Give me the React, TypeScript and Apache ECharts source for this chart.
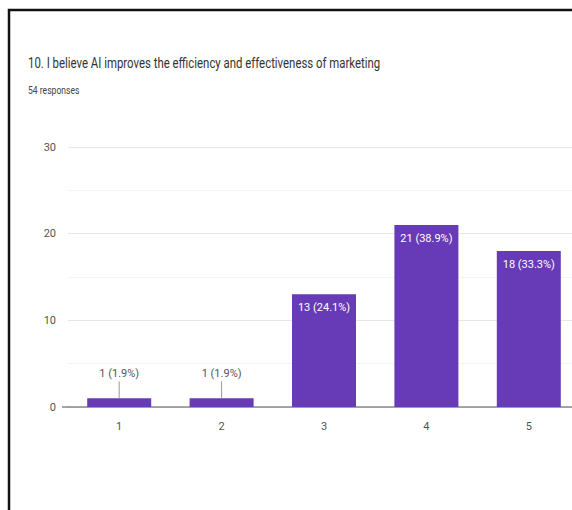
import React, { useEffect, useRef } from "react";
import * as echarts from "echarts";

const categories = ["1", "2", "3", "4", "5"];
const counts = [1, 1, 13, 21, 18];
const percents = ["1.9%", "1.9%", "24.1%", "38.9%", "33.3%"];
const yTicks = [0, 10, 20, 30];
const titleText = "10. I believe AI improves the efficiency and effectiveness of marketing";
const subText = "54 responses";

const FONT = "Roboto, sans-serif";
const PURPLE = "#673ab7";

export default function App() {
  const ref = useRef<HTMLDivElement>(null);
  useEffect(() => {
    if (!ref.current) return;
    const chart = echarts.init(ref.current, undefined, { renderer: "svg" });
    const outside = (v: number) => v < 5;
    chart.setOption({
      animation: false,
      backgroundColor: "#ffffff",
      textStyle: { fontFamily: FONT },
      grid: { left: 68, top: 147, right: 0, height: 260, containLabel: false },
      xAxis: {
        type: "category",
        data: categories,
        axisTick: { show: false },
        axisLine: { lineStyle: { color: "#888", width: 1.5 } },
        axisLabel: { color: "#555", fontSize: 11, margin: 14, fontFamily: FONT },
      },
      yAxis: {
        type: "value",
        min: yTicks[0],
        max: yTicks[yTicks.length - 1],
        interval: 10,
        axisLine: { show: false },
        axisTick: { show: false },
        axisLabel: { color: "#555", fontSize: 11, margin: 12, fontFamily: FONT },
        splitLine: { lineStyle: { color: "#e6e6e6" } },
        minorTick: { show: false, splitNumber: 2 },
        minorSplitLine: { show: true, lineStyle: { color: "#f3f3f3" } },
      },
      series: [
        {
          type: "bar",
          barWidth: "62.5%",
          itemStyle: { color: PURPLE },
          data: counts.map((v) => ({
            value: v,
            label: outside(v)
              ? { show: true, position: "top", distance: 19, color: "#555" }
              : { show: true, position: "insideTop", distance: 8, color: "#fff" },
          })),
          label: {
            fontFamily: FONT,
            fontSize: 11,
            formatter: (p: any) => `${counts[p.dataIndex]} (${percents[p.dataIndex]})`,
          },
        },
        {
          type: "custom",
          silent: true,
          data: counts.map((v, i) => [i, v]).filter((d) => outside(d[1])),
          renderItem: (params: any, api: any) => {
            const pt = api.coord([api.value(0), api.value(1)]);
            return {
              type: "line",
              shape: { x1: pt[0], y1: pt[1], x2: pt[0], y2: pt[1] - 17 },
              style: { stroke: "#999", lineWidth: 1 },
            };
          },
          z: 5,
        },
      ],
      graphic: [
        {
          type: "text",
          x: 28,
          y: 55,
          scaleX: 0.76,
          style: {
            text: titleText,
            font: `normal 15px ${FONT}`,
            fill: "#333",
            verticalAlign: "top",
          },
        },
        {
          type: "text",
          x: 28,
          y: 85,
          scaleX: 0.78,
          style: {
            text: subText,
            font: `normal 11px ${FONT}`,
            fill: "#444",
            verticalAlign: "top",
          },
        },
        {
          type: "polyline",
          shape: { points: [[9, 510], [9, 10], [580, 10]] },
          style: { stroke: "#111", lineWidth: 2.5, fill: null },
        },
        {
          type: "line",
          shape: { x1: 62, y1: 407, x2: 68, y2: 407 },
          style: { stroke: "#888", lineWidth: 1.5 },
        },
      ],
    });
    return () => chart.dispose();
  }, []);
  return (
    <div style={{ position: "fixed", left: 0, top: 0, width: 572, height: 510, overflow: "hidden" }}>
      <div ref={ref} style={{ width: 580, height: 510 }} />
    </div>
  );
}
